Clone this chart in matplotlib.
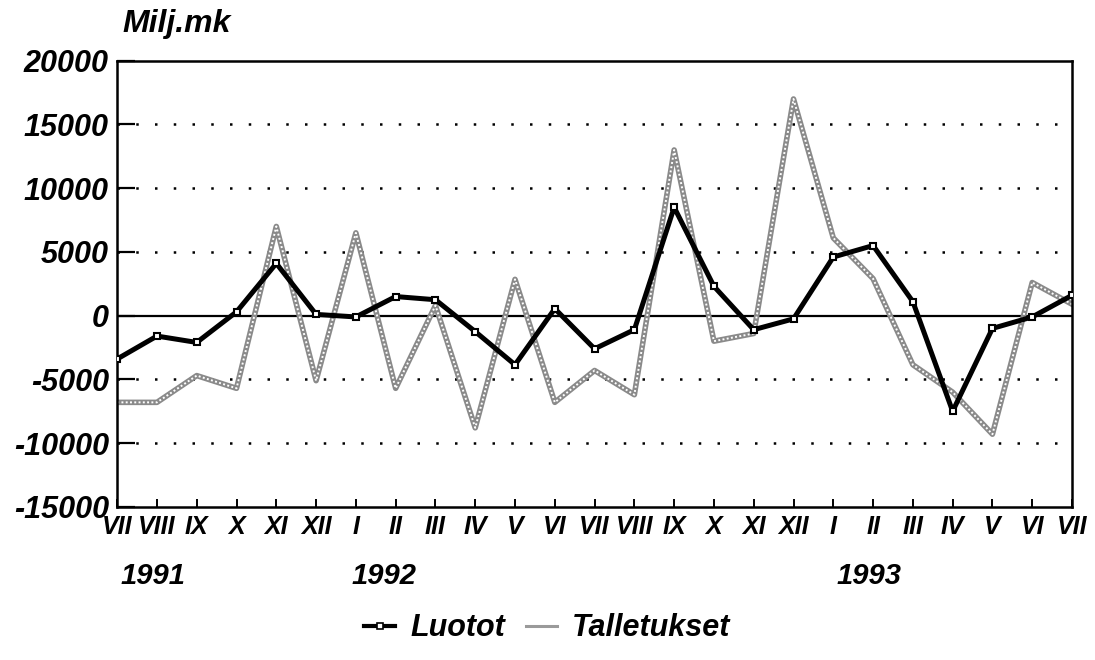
import matplotlib
matplotlib.use("Agg")
import matplotlib.pyplot as plt
from matplotlib.lines import Line2D
import matplotlib.transforms as mtransforms

# monthly change, million mk, VII/1991 .. VII/1993
months = ["VII", "VIII", "IX", "X", "XI", "XII", "I", "II", "III", "IV", "V", "VI",
          "VII", "VIII", "IX", "X", "XI", "XII", "I", "II", "III", "IV", "V", "VI", "VII"]
luotot = [-3400, -1600, -2100, 300, 4100, 100, -100, 1500, 1250, -1250, -3850, 550,
          -2600, -1100, 8500, 2300, -1100, -250, 4600, 5500, 1100, -7500, -1000, -100, 1600]
talletukset = [-6800, -6800, -4700, -5700, 7000, -5100, 6500, -5700, 800, -8800, 2850, -6800,
               -4300, -6200, 13000, -2000, -1400, 17000, 6100, 2900, -3850, -6000, -9300, 2600, 900]
years = ["1991", "1992", "1993"]
year_pos = [0.9, 6.7, 18.9]
yticks = [-15000, -10000, -5000, 0, 5000, 10000, 15000, 20000]

font = dict(family="Liberation Sans", weight="bold", style="italic")

fig = plt.figure(figsize=(10.95, 6.6), dpi=100)
ax = fig.add_axes([0.107, 0.232, 0.872, 0.676])

x = list(range(len(months)))

# dotted grid + solid zero line
for v in yticks:
    if v in (-15000, 20000):
        continue
    if v == 0:
        ax.axhline(0, color="black", lw=1.6, zorder=1)
    else:
        ax.axhline(v, color="black", lw=1.8, ls=(0, (1, 6.5)), zorder=1)

# Talletukset: grey textured line
ax.plot(x, talletukset, color="#8a8a8a", lw=4.0, zorder=2)
ax.plot(x, talletukset, color="white", lw=1.4, ls=(0, (1, 1.2)), zorder=2.1)

# Luotot: thick black line with hollow squares
ax.plot(x, luotot, color="black", lw=3.6, marker="s", ms=5,
        mfc="white", mec="black", mew=1.5, zorder=3)

ax.set_xlim(0, len(months) - 1)
ax.set_ylim(-15000, 20000)
ax.set_yticks(yticks)
ax.set_yticklabels([str(v) for v in yticks], fontsize=22, **font)
ax.set_xticks(x)
ax.set_xticklabels(months, fontsize=18, **font)
ax.tick_params(axis="y", direction="in", length=13, width=1.6, pad=6)
ax.tick_params(axis="x", direction="in", length=6, width=1.4, pad=6)
for s in ax.spines.values():
    s.set_linewidth(1.8)

trans = mtransforms.blended_transform_factory(ax.transData, fig.transFigure)
for yr, p in zip(years, year_pos):
    ax.text(p, 0.128, yr, transform=trans, ha="center", va="center", fontsize=21, **font)

fig.text(0.112, 0.963, "Milj.mk", ha="left", va="center", fontsize=23, **font)

handles = [
    Line2D([], [], color="black", lw=3.0, marker="s", ms=4, mfc="white", mec="black", mew=1.2),
    Line2D([], [], color="#9a9a9a", lw=2.2),
]
leg = fig.legend(handles, ["Luotot", "Talletukset"], loc="center", bbox_to_anchor=(0.50, 0.048),
                 ncol=2, frameon=False, handlelength=1.0, handletextpad=0.5, columnspacing=0.7,
                 prop=dict(size=22, **font))

fig.savefig("out.png", dpi=100)
